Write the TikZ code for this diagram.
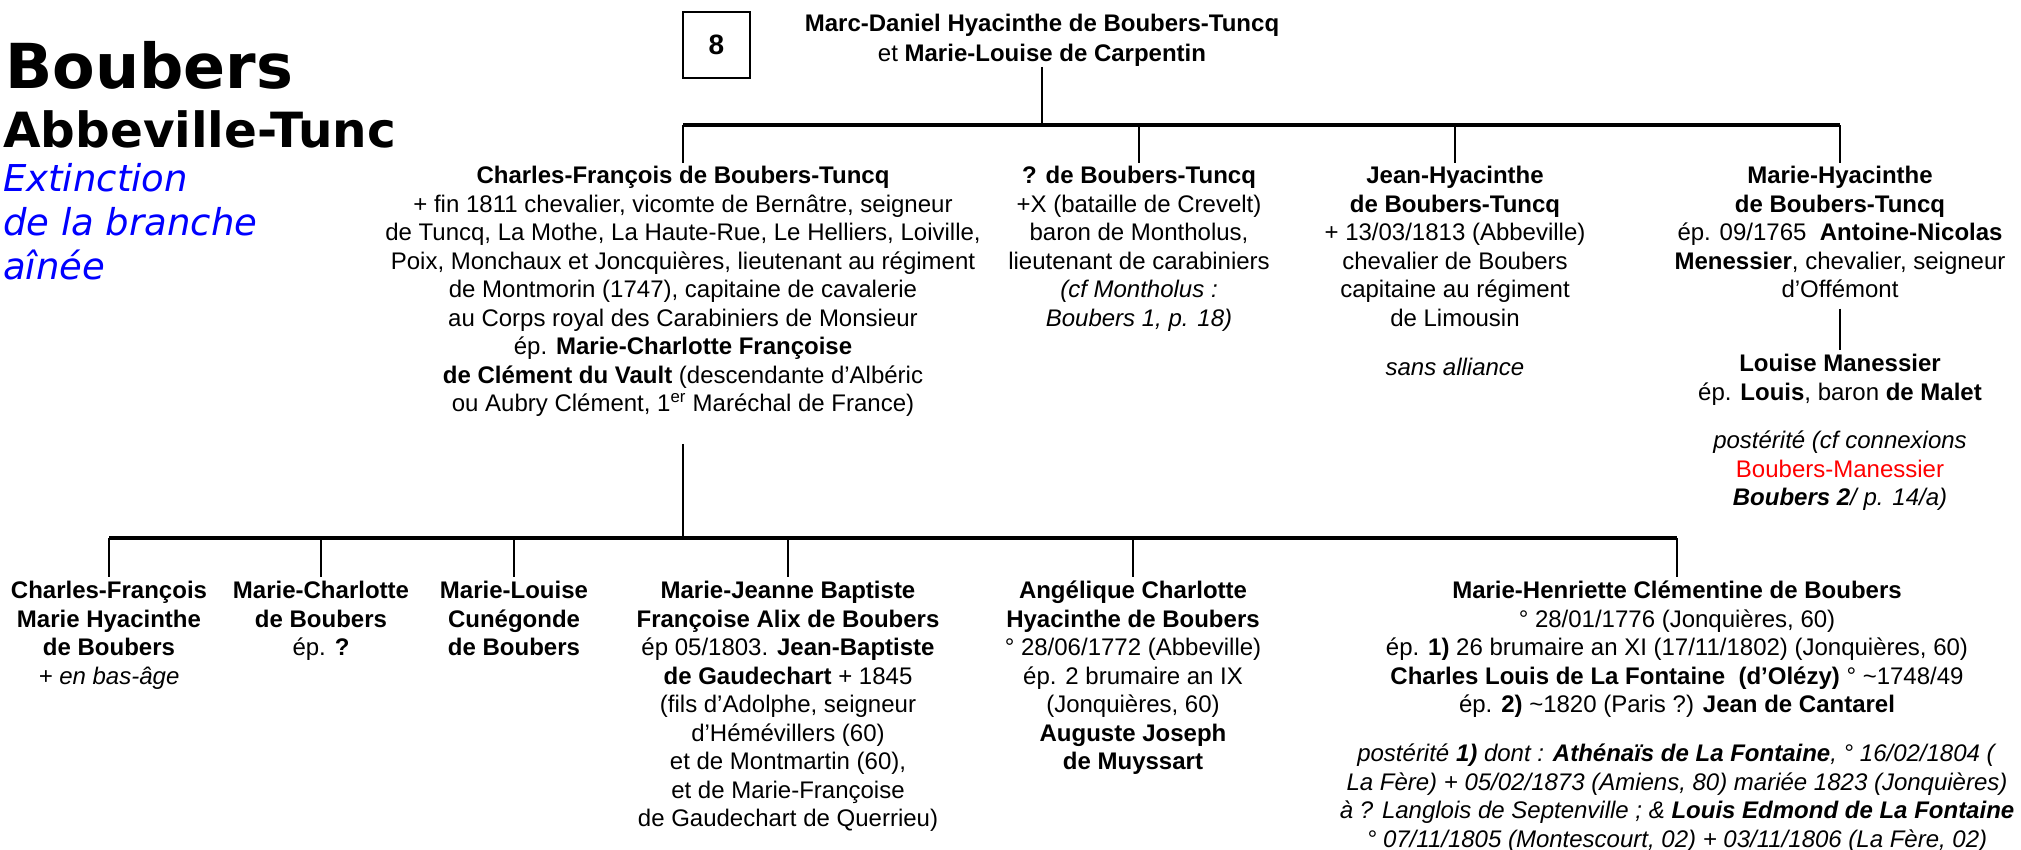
\documentclass[tikz,border=0pt]{standalone}
\usepackage{fontspec}
\setmainfont{Liberation Sans}
\newfontfamily\titlefont{DejaVu Sans}
\usepackage{xcolor}
\usepackage{tikz}

\begin{document}
\begin{tikzpicture}[x=1pt,y=-1pt,
  person/.style={inner sep=0pt,align=center,anchor=north,font=\fontsize{24}{28.5}\selectfont},
  link/.style={line width=2pt},
  bar/.style={line width=3.5pt}]
\useasboundingbox (0,0) rectangle (2021,849);

% Title of the branch
\node[anchor=base west,inner sep=0pt,font=\titlefont\bfseries\fontsize{62}{70}\selectfont] (title) at (5,88) {Boubers};
\node[anchor=base west,inner sep=0pt,font=\titlefont\bfseries\fontsize{48.5}{54}\selectfont] (subtitle) at (3,147) {Abbeville-Tunc};
\node[anchor=north west,inner sep=0pt,align=left,text=blue,font=\titlefont\itshape\fontsize{37}{44}\selectfont] (extinct) at (3,163) {Extinction\\de la branche\\aînée};

% Generation number
\node[draw,line width=1.2pt,minimum width=67pt,minimum height=66pt,inner sep=0pt,font=\bfseries\fontsize{28}{32}\selectfont] (gen) at (716.5,45) {8};

% Parents
\node[person] (parents) at (1042,14) {\textbf{Marc-Daniel Hyacinthe de Boubers-Tuncq}\\[1.5pt]et \textbf{Marie-Louise de Carpentin}};

% Their children
\node[person] (cf) at (683,166) {\textbf{Charles-François de Boubers-Tuncq}\\
+ fin 1811 chevalier, vicomte de Bernâtre, seigneur\\
de Tuncq, La Mothe, La Haute-Rue, Le Helliers, Loiville,\\
Poix, Monchaux et Joncquières, lieutenant au régiment\\
de Montmorin (1747), capitaine de cavalerie\\
au Corps royal des Carabiniers de Monsieur\\
ép. \textbf{Marie-Charlotte Françoise}\\
\textbf{de Clément du Vault} (descendante d’Albéric\\
ou Aubry Clément, 1\textsuperscript{er} Maréchal de France)};
\node[person] (qb) at (1139,166) {\textbf{? de Boubers-Tuncq}\\
+X (bataille de Crevelt)\\
baron de Montholus,\\
lieutenant de carabiniers\\
\textit{(cf Montholus :}\\
\textit{Boubers 1, p. 18)}};
\node[person] (jh) at (1455,166) {\textbf{Jean-Hyacinthe}\\
\textbf{de Boubers-Tuncq}\\
+ 13/03/1813 (Abbeville)\\
chevalier de Boubers\\
capitaine au régiment\\
de Limousin};
\node[person] (jhnote) at (1455,358) {\textit{sans alliance}};
\node[person] (mh) at (1840,166) {\textbf{Marie-Hyacinthe}\\
\textbf{de Boubers-Tuncq}\\
ép. 09/1765\ \ \textbf{Antoine-Nicolas}\\
\textbf{Menessier}, chevalier, seigneur\\
d’Offémont};
\node[person] (lm) at (1840,354) {\textbf{Louise Manessier}\\
ép. \textbf{Louis}, baron \textbf{de Malet}};
\node[person] (lmpost) at (1840,431) {\textit{postérité (cf connexions}\\
\textcolor{red}{Boubers-Manessier}\\
\textit{\textbf{Boubers 2}/ p. 14/a)}};

% Children of Charles-François
\node[person] (cfm) at (109,581) {\textbf{Charles-François}\\
\textbf{Marie Hyacinthe}\\
\textbf{de Boubers}\\
\textit{+ en bas-âge}};
\node[person] (mc) at (321,581) {\textbf{Marie-Charlotte}\\
\textbf{de Boubers}\\
ép. \textbf{?}};
\node[person] (ml) at (514,581) {\textbf{Marie-Louise}\\
\textbf{Cunégonde}\\
\textbf{de Boubers}};
\node[person] (mj) at (788,581) {\textbf{Marie-Jeanne Baptiste}\\
\textbf{Françoise Alix de Boubers}\\
ép 05/1803. \textbf{Jean-Baptiste}\\
\textbf{de Gaudechart} + 1845\\
(fils d’Adolphe, seigneur\\
d’Hémévillers (60)\\
et de Montmartin (60),\\
et de Marie-Françoise\\
de Gaudechart de Querrieu)};
\node[person] (ac) at (1133,581) {\textbf{Angélique Charlotte}\\
\textbf{Hyacinthe de Boubers}\\
° 28/06/1772 (Abbeville)\\
ép. 2 brumaire an IX\\
(Jonquières, 60)\\
\textbf{Auguste Joseph}\\
\textbf{de Muyssart}};
\node[person] (mhc) at (1677,581) {\textbf{Marie-Henriette Clémentine de Boubers}\\
° 28/01/1776 (Jonquières, 60)\\
ép. \textbf{1)} 26 brumaire an XI (17/11/1802) (Jonquières, 60)\\
\textbf{Charles Louis de La Fontaine\ \ (d’Olézy)} ° \textasciitilde1748/49\\
ép. \textbf{2)} \textasciitilde1820 (Paris ?) \textbf{Jean de Cantarel}};
\node[person] (mhcpost) at (1677,744) {\textit{postérité \textbf{1)} dont : \textbf{Athénaïs de La Fontaine}, ° 16/02/1804 (}\\
\textit{La Fère) + 05/02/1873 (Amiens, 80) mariée 1823 (Jonquières)}\\
\textit{à ? Langlois de Septenville ; \& \textbf{Louis Edmond de La Fontaine}}\\
\textit{° 07/11/1805 (Montescourt, 02) + 03/11/1806 (La Fère, 02)}};

% Lines of descent
\coordinate (top) at (1042,125);
\coordinate (low) at (683,538);
\draw[link] (parents.south) -- (top);
\draw[bar] (cf.north |- top) -- (mh.north |- top);
\foreach \n in {cf,qb,jh,mh}
  \draw[link] (\n.north |- top) -- ([yshift=3pt]\n.north);
\draw[link] ([yshift=-10.5pt]mh.south) -- ([yshift=4pt]lm.north);
\draw[link] ([yshift=-27pt]cf.south) -- (low);
\draw[bar] (cfm.north |- low) -- (mhc.north |- low);
\foreach \n in {cfm,mc,ml,mj,ac,mhc}
  \draw[link] (\n.north |- low) -- ([yshift=4pt]\n.north);
\end{tikzpicture}
\end{document}
